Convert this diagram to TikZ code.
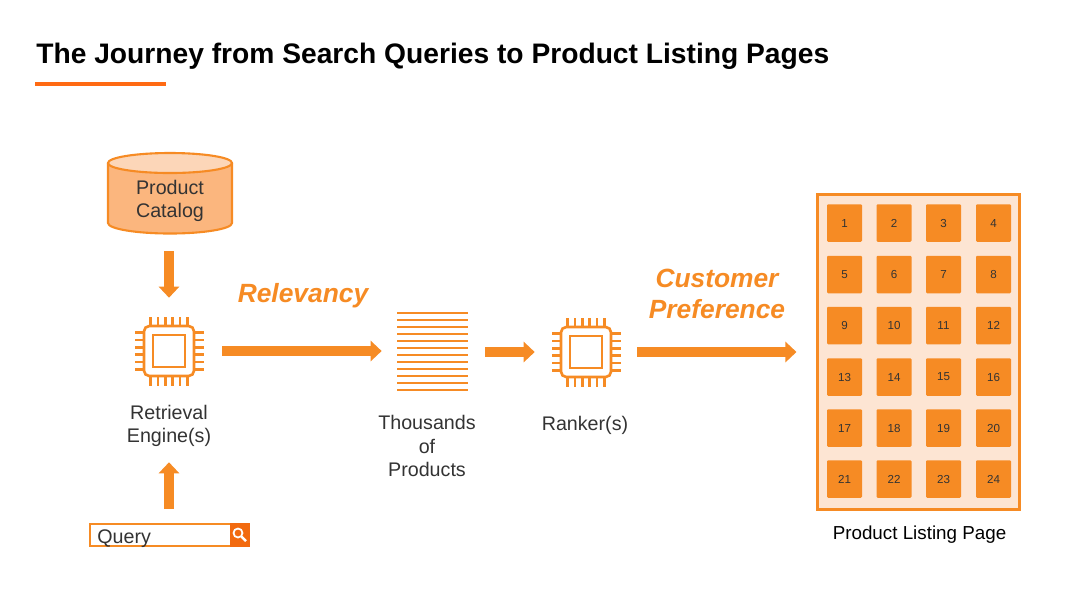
\documentclass[tikz,border=0pt]{standalone}
\usepackage{fontspec}
\setmainfont{Liberation Sans}
\usetikzlibrary{arrows.meta}
\definecolor{plorange}{HTML}{F68B24}
\definecolor{pldark}{HTML}{F26A0F}
\definecolor{plbar}{HTML}{FF6A13}
\definecolor{plpage}{HTML}{FDE5D3}
\definecolor{plbody}{HTML}{FBB67E}
\definecolor{pltop}{HTML}{FCD6B8}
\definecolor{pltext}{HTML}{333333}
\tikzset{
  lbl/.style={text=pltext, align=center, inner sep=0pt, font=\fontsize{11.2}{13.4}\selectfont},
  bigarrow/.style={draw=plorange, line width=0.2cm, -{Triangle[length=0.22cm,width=0.4cm]}},
  emph/.style={text=plorange, align=center, inner sep=0pt, font=\fontsize{15}{17.6}\selectfont\bfseries\itshape},
  cell/.style={fill=plorange, rounded corners=0.6pt, minimum width=0.7cm, minimum height=0.75cm, inner sep=0pt, text=pltext, font=\fontsize{6.6}{8}\selectfont},
  pin/.style={draw=plorange, line width=1.4pt},
  pics/chip/.style={code={
    \node[draw=plorange, line width=1.5pt, rounded corners=3pt, minimum size=1cm, inner sep=0pt] (-box) at (0,0) {};
    \node[draw=plorange, line width=1.5pt, minimum size=0.64cm, inner sep=0pt] (-core) at (0,0) {};
    \foreach \t in {-18.5,-11.1,-3.7,3.7,11.1,18.5} {
      \draw[pin] (\t,-26) -- (\t,-34.5);
      \draw[pin] (\t,26) -- (\t,34.5);
      \draw[pin] (-26,\t) -- (-34.5,\t);
      \draw[pin] (26,\t) -- (34.5,\t);
    }
  }}
}

\begin{document}
\begin{tikzpicture}[x=0.02cm,y=-0.02cm]
\useasboundingbox (0,0) rectangle (1092,600);

\node[anchor=west, inner sep=0pt, font=\fontsize{16.05}{18}\selectfont\bfseries] (title) at (36,56) {The Journey from Search Queries to Product Listing Pages};
\node[fill=plbar, minimum width=2.62cm, minimum height=0.08cm, inner sep=0pt] (rule) at (100.5,84) {};

\draw[plorange, fill=plbody, line width=1.2pt] (108,163) -- (108,223) arc[start angle=180, end angle=0, x radius=62, y radius=10.5] -- (232,163);
\draw[plorange, fill=pltop, line width=1.2pt] (170,163) ellipse (62 and 10);
\node[minimum width=2.48cm, minimum height=1.62cm, inner sep=0pt] (catalog) at (170,193.5) {};
\node[lbl] (catalogtext) at (170,201) {Product\\Catalog};

\pic (retrieval) at (169,351) {chip};
\node[lbl] (retrievaltext) at (169,426) {Retrieval\\Engine(s)};

\node[draw=plorange, fill=white, line width=1.1pt, minimum width=3.18cm, minimum height=0.44cm, inner sep=0pt] (query) at (169.5,535) {};
\node[lbl, anchor=west] (querytext) at (97,539) {Query};
\node[fill=pldark, minimum width=0.4cm, minimum height=0.48cm, inner sep=0pt] (search) at (240,535) {};
\draw[white, line width=1pt] (238,533) circle (4.5);
\draw[white, line width=1.4pt] (241.5,536.5) -- (246,541);

\node[minimum width=1.42cm, minimum height=1.58cm, inner sep=0pt] (stack) at (432.5,351.5) {};
\foreach \i in {0,...,11} {
  \draw[plorange, line width=1.2pt] (397,313.3+7*\i) -- (468,313.3+7*\i);
}
\node[lbl] (stacktext) at (427,446) {Thousands\\of\\Products};

\pic (ranker) at (586,352) {chip};
\node[lbl] (rankertext) at (585,425) {Ranker(s)};

\node[draw=plorange, fill=plpage, line width=1.2pt, minimum width=4.04cm, minimum height=6.3cm, inner sep=0pt] (page) at (918.5,352) {};
\foreach \row/\y in {0/223,1/274.5,2/325.5,3/377,4/428,5/479} {
  \foreach \col/\x in {1/844.5,2/894,3/943.5,4/993.5} {
    \pgfmathtruncatemacro{\n}{4*\row+\col}
    \node[cell] (cell\n) at (\x,\y) {\n};
  }
}
\node[lbl, text=black, font=\fontsize{10.7}{13.4}\selectfont] (pagetext) at (919.5,535) {Product Listing Page};

\node[emph] (relevancy) at (303,296) {Relevancy};
\node[emph] (preference) at (717,293.5) {Customer\\Preference};

\draw[bigarrow, shorten <=0.34cm, shorten >=0.54cm] (retrieval-box.north |- catalog.south) -- (retrieval-box.north);
\draw[bigarrow, shorten <=0.28cm, shorten >=0.3cm] (retrievaltext.south |- query.north) -- (retrievaltext.south);
\draw[bigarrow, shorten <=0.54cm, shorten >=0.3cm] (retrieval-box.east) -- (retrieval-box.east -| stack.west);
\draw[bigarrow, shorten <=0.34cm, shorten >=0.5cm] (ranker-box.west -| stack.east) -- (ranker-box.west);
\draw[bigarrow, shorten <=0.5cm, shorten >=0.4cm] (ranker-box.east) -- (ranker-box.east -| page.west);
\end{tikzpicture}
\end{document}
